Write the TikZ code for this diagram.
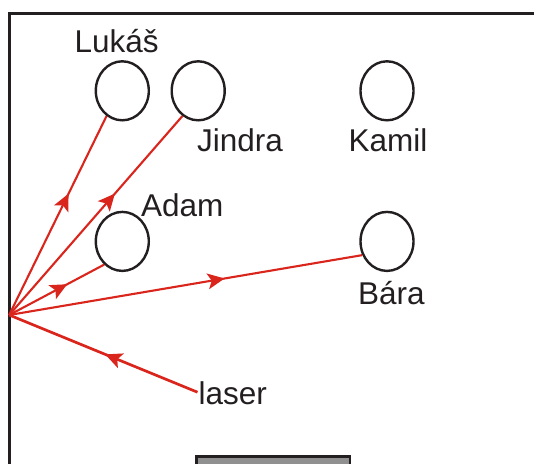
\documentclass[tikz,border=0pt]{standalone}
\usepackage{fontspec}
\setmainfont{Liberation Sans}
\usetikzlibrary{shapes.geometric,arrows.meta,calc}
\definecolor{ink}{HTML}{231F20}
\definecolor{beam}{HTML}{DA251C}
\definecolor{boxgray}{HTML}{909090}
\tikzset{
  person/.style={ellipse,draw=ink,line width=2.4pt,minimum width=53pt,minimum height=59pt,inner sep=0pt},
  pname/.style={anchor=base west,inner sep=0pt,text=ink,font=\fontsize{31.5}{35}\selectfont},
  ray/.style={draw=beam,line width=2.1pt},
  head/.style={draw=none,fill=beam},
  wall/.style={draw=ink,line width=2.6pt}
}
\newcommand{\beamhead}[2]{% tip coordinate, back coordinate
  \fill[head] (#1) -- ($(#2)!8pt!90:(#1)$) -- ($(#2)!4pt!(#1)$) -- ($(#2)!8pt!-90:(#1)$) -- cycle;}
\begin{document}
\begin{tikzpicture}[x=1pt,y=-1pt]
\useasboundingbox (0,0) rectangle (534,463);
\clip (0,0) rectangle (534,463);
% frame
\draw[wall] (9.2,480) -- (9.2,13.5) -- (545,13.5);
\draw[wall,fill=boxgray] (196.7,475) rectangle (350,456.5);
% people
\node[person] (luk) at (122.3,90.8) {};
\node[person] (jin) at (198.2,90.8) {};
\node[person] (kam) at (387,90.8) {};
\node[person] (ada) at (122.3,241.4) {};
\node[person] (bar) at (387,241.4) {};
% labels
\node[pname] (tluk) at (74.5,52.8) {Lukáš};
\node[pname] (tjin) at (197,151.6) {Jindra};
\node[pname] (tkam) at (348.4,151.6) {Kamil};
\node[pname] (tada) at (141,216.2) {Adam};
\node[pname] (tbar) at (358,304.8) {Bára};
\node[pname] (tlas) at (198.5,404.5) {laser};
% beams
\coordinate (R) at (9.2,315);
\coordinate (L) at (197.5,392.2);
\draw[ray,line width=2.7pt] (L) -- (R);
\coordinate (tipL) at ($(L)!0.49!(R)$);
\coordinate (backL) at ($(tipL)!17pt!(L)$);
\beamhead{tipL}{backL}
\foreach \t [count=\i] in {luk.238, jin.238.5, ada.232, bar.209}{
  \draw[ray] (R) -- (\t);
  \coordinate (tip\i) at ($(R)!0.61!(\t)$);
  \coordinate (back\i) at ($(tip\i)!17pt!(R)$);
  \beamhead{tip\i}{back\i}
}
\end{tikzpicture}
\end{document}
